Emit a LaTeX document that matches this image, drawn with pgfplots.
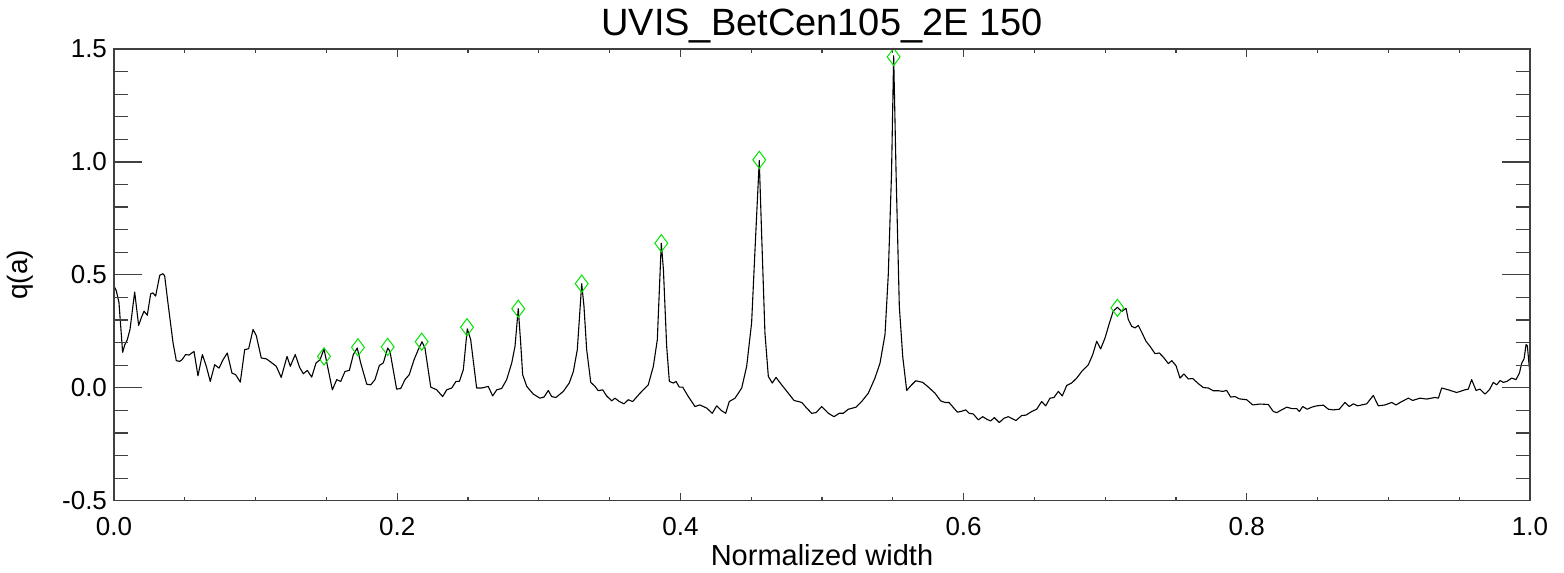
\documentclass[border=0pt]{standalone}
\usepackage{fontspec}
\setmainfont{Liberation Sans}
\usepackage{pgfplots}
\pgfplotsset{compat=1.18}
\usepackage{pgfplotstable}
\definecolor{mkgreen}{RGB}{0,230,0}
\pgfplotstableread{
x y
0.0000 0.450
0.0016 0.430
0.0035 0.378
0.0061 0.157
0.0076 0.190
0.0094 0.213
0.0113 0.258
0.0146 0.424
0.0174 0.276
0.0193 0.310
0.0212 0.339
0.0235 0.321
0.0259 0.416
0.0275 0.420
0.0294 0.406
0.0323 0.498
0.0346 0.505
0.0358 0.495
0.0381 0.376
0.0417 0.199
0.0440 0.120
0.0464 0.117
0.0480 0.124
0.0506 0.147
0.0530 0.145
0.0565 0.161
0.0593 0.053
0.0624 0.147
0.0652 0.095
0.0680 0.028
0.0711 0.102
0.0742 0.087
0.0770 0.124
0.0800 0.154
0.0833 0.065
0.0859 0.058
0.0892 0.025
0.0923 0.169
0.0951 0.173
0.0982 0.258
0.1005 0.231
0.1040 0.132
0.1076 0.128
0.1111 0.112
0.1146 0.095
0.1181 0.046
0.1222 0.139
0.1245 0.095
0.1280 0.147
0.1311 0.090
0.1337 0.062
0.1365 0.077
0.1396 0.047
0.1427 0.110
0.1455 0.124
0.1483 0.172
0.1513 0.080
0.1542 -0.009
0.1573 0.036
0.1601 0.028
0.1631 0.072
0.1662 0.077
0.1690 0.147
0.1718 0.176
0.1742 0.110
0.1785 0.016
0.1813 0.013
0.1843 0.036
0.1874 0.099
0.1902 0.110
0.1933 0.176
0.1949 0.161
0.1996 -0.006
0.2025 -0.003
0.2055 0.036
0.2085 0.058
0.2119 0.124
0.2149 0.169
0.2175 0.204
0.2196 0.176
0.2237 0.003
0.2279 -0.009
0.2321 -0.039
0.2350 -0.009
0.2385 -0.001
0.2415 0.028
0.2439 0.028
0.2467 0.080
0.2495 0.261
0.2519 0.213
0.2561 -0.001
0.2597 -0.001
0.2643 0.006
0.2674 -0.036
0.2703 -0.009
0.2738 -0.003
0.2773 0.036
0.2809 0.110
0.2832 0.184
0.2855 0.350
0.2872 0.199
0.2886 0.058
0.2915 0.006
0.2961 -0.028
0.3008 -0.046
0.3037 -0.041
0.3067 -0.012
0.3091 -0.039
0.3121 -0.043
0.3173 -0.016
0.3215 0.021
0.3244 0.072
0.3272 0.169
0.3303 0.461
0.3319 0.361
0.3338 0.169
0.3367 0.024
0.3397 0.006
0.3420 -0.013
0.3451 -0.009
0.3479 -0.036
0.3515 -0.058
0.3538 -0.046
0.3569 -0.061
0.3602 -0.071
0.3632 -0.053
0.3663 -0.061
0.3715 -0.024
0.3773 0.013
0.3809 0.095
0.3837 0.213
0.3865 0.640
0.3880 0.524
0.3903 0.184
0.3922 0.028
0.3950 0.021
0.3969 0.028
0.3992 0.003
0.4016 0.003
0.4056 -0.039
0.4103 -0.083
0.4138 -0.076
0.4186 -0.090
0.4225 -0.113
0.4256 -0.080
0.4292 -0.102
0.4320 -0.113
0.4345 -0.061
0.4386 -0.046
0.4433 -0.001
0.4468 0.095
0.4503 0.288
0.4527 0.613
0.4557 1.006
0.4574 0.673
0.4597 0.243
0.4621 0.050
0.4649 0.021
0.4675 0.046
0.4715 0.013
0.4762 -0.024
0.4802 -0.056
0.4857 -0.065
0.4892 -0.090
0.4927 -0.113
0.4958 -0.110
0.4998 -0.083
0.5045 -0.113
0.5085 -0.128
0.5122 -0.113
0.5150 -0.113
0.5186 -0.095
0.5240 -0.086
0.5280 -0.061
0.5327 -0.024
0.5374 0.043
0.5410 0.110
0.5445 0.236
0.5468 0.500
0.5491 0.950
0.5506 1.470
0.5523 0.954
0.5546 0.361
0.5570 0.139
0.5598 -0.012
0.5633 0.013
0.5662 0.031
0.5711 0.024
0.5751 0.003
0.5798 -0.024
0.5838 -0.058
0.5869 -0.065
0.5897 -0.065
0.5956 -0.108
0.5980 -0.105
0.6015 -0.098
0.6040 -0.113
0.6068 -0.116
0.6104 -0.142
0.6135 -0.128
0.6163 -0.139
0.6191 -0.147
0.6217 -0.132
0.6252 -0.154
0.6285 -0.135
0.6316 -0.128
0.6370 -0.145
0.6410 -0.123
0.6441 -0.121
0.6481 -0.105
0.6516 -0.095
0.6551 -0.061
0.6580 -0.080
0.6610 -0.046
0.6638 -0.043
0.6669 -0.016
0.6697 -0.036
0.6728 0.010
0.6763 0.021
0.6799 0.043
0.6834 0.072
0.6881 0.102
0.6912 0.147
0.6940 0.206
0.6968 0.172
0.6999 0.221
0.7029 0.285
0.7057 0.340
0.7086 0.356
0.7117 0.338
0.7147 0.352
0.7163 0.302
0.7187 0.272
0.7210 0.265
0.7234 0.276
0.7258 0.246
0.7288 0.206
0.7316 0.184
0.7352 0.151
0.7382 0.154
0.7410 0.136
0.7446 0.107
0.7470 0.120
0.7500 0.098
0.7528 0.043
0.7556 0.061
0.7587 0.039
0.7618 0.041
0.7658 0.018
0.7693 0.001
0.7728 -0.001
0.7763 -0.013
0.7799 -0.013
0.7830 -0.016
0.7858 -0.012
0.7886 -0.041
0.7917 -0.039
0.7947 -0.049
0.7999 -0.053
0.8042 -0.076
0.8093 -0.072
0.8152 -0.074
0.8187 -0.105
0.8211 -0.110
0.8246 -0.098
0.8282 -0.086
0.8317 -0.092
0.8352 -0.092
0.8371 -0.105
0.8395 -0.083
0.8427 -0.095
0.8458 -0.086
0.8494 -0.080
0.8541 -0.077
0.8576 -0.095
0.8611 -0.098
0.8653 -0.095
0.8693 -0.065
0.8724 -0.083
0.8752 -0.071
0.8783 -0.080
0.8811 -0.076
0.8847 -0.071
0.8893 -0.034
0.8929 -0.080
0.8976 -0.076
0.9023 -0.065
0.9054 -0.076
0.9094 -0.061
0.9141 -0.046
0.9172 -0.056
0.9223 -0.046
0.9270 -0.050
0.9329 -0.043
0.9353 -0.046
0.9376 -0.001
0.9423 -0.009
0.9482 -0.021
0.9541 -0.009
0.9564 -0.006
0.9588 0.036
0.9619 -0.012
0.9647 -0.006
0.9682 -0.028
0.9713 -0.009
0.9741 0.024
0.9765 0.013
0.9788 0.032
0.9812 0.024
0.9836 0.028
0.9871 0.043
0.9901 0.036
0.9925 0.065
0.9942 0.110
0.9958 0.128
0.9972 0.191
0.9981 0.187
1.0000 0.058
}\curve
\pgfplotstableread{
x y
0.1483 0.139
0.1723 0.179
0.1933 0.181
0.2173 0.204
0.2493 0.268
0.2855 0.350
0.3303 0.461
0.3865 0.640
0.4557 1.009
0.5506 1.465
0.7086 0.354
}\peaks
\begin{document}
\begin{tikzpicture}
\pgfplotsset{
  common/.style={
    width=708bp, height=225.85bp, scale only axis,
    at={(0,0)}, anchor=south west,
    xmin=0, xmax=1, ymin=-0.5, ymax=1.5,
    axis line style={black!75, line width=0.7bp},
    every tick/.style={black!75, line width=0.6bp},
    tick align=inside,
    tick label style={font=\fontsize{13bp}{15bp}\selectfont},
  }
}
\begin{axis}[common, name=main,
  xtick={0,0.2,0.4,0.6,0.8,1.0},
  xticklabels={0.0,0.2,0.4,0.6,0.8,1.0},
  minor x tick num=3,
  major tick length=4bp, minor tick length=2bp,
  ytick=\empty,
  xticklabel style={yshift=-5bp},
  xlabel={Normalized width},
  xlabel style={font=\fontsize{14.5bp}{17bp}\selectfont, at={(axis description cs:0.5,-0.12)}, anchor=center},
  ylabel={q(a)},
  ylabel style={font=\fontsize{14bp}{17bp}\selectfont, at={(axis description cs:-0.066,0.5)}, anchor=center},
]
\addplot[black, line width=0.55bp, line join=round] table[x=x,y=y]{\curve};
\addplot[only marks, mark=diamond, mark size=4.3bp, mark options={draw=mkgreen, line width=0.5bp, fill=none}] table[x=x,y=y]{\peaks};
\end{axis}
\begin{axis}[common,
  xtick=\empty,
  ytick={-0.5,0,0.5,1.0,1.5},
  yticklabels={-0.5,0.0,0.5,1.0,1.5},
  minor y tick num=4,
  major tick length=14bp, minor tick length=7bp,
]
\end{axis}
\node[anchor=base, yshift=6.5bp, font=\fontsize{19bp}{22bp}\selectfont] at (main.north) {UVIS\_BetCen105\_2E 150};
\pgfresetboundingbox
\path[use as bounding box] (-57bp,-36.15bp) rectangle (725bp,250.35bp);
\end{tikzpicture}
\end{document}
